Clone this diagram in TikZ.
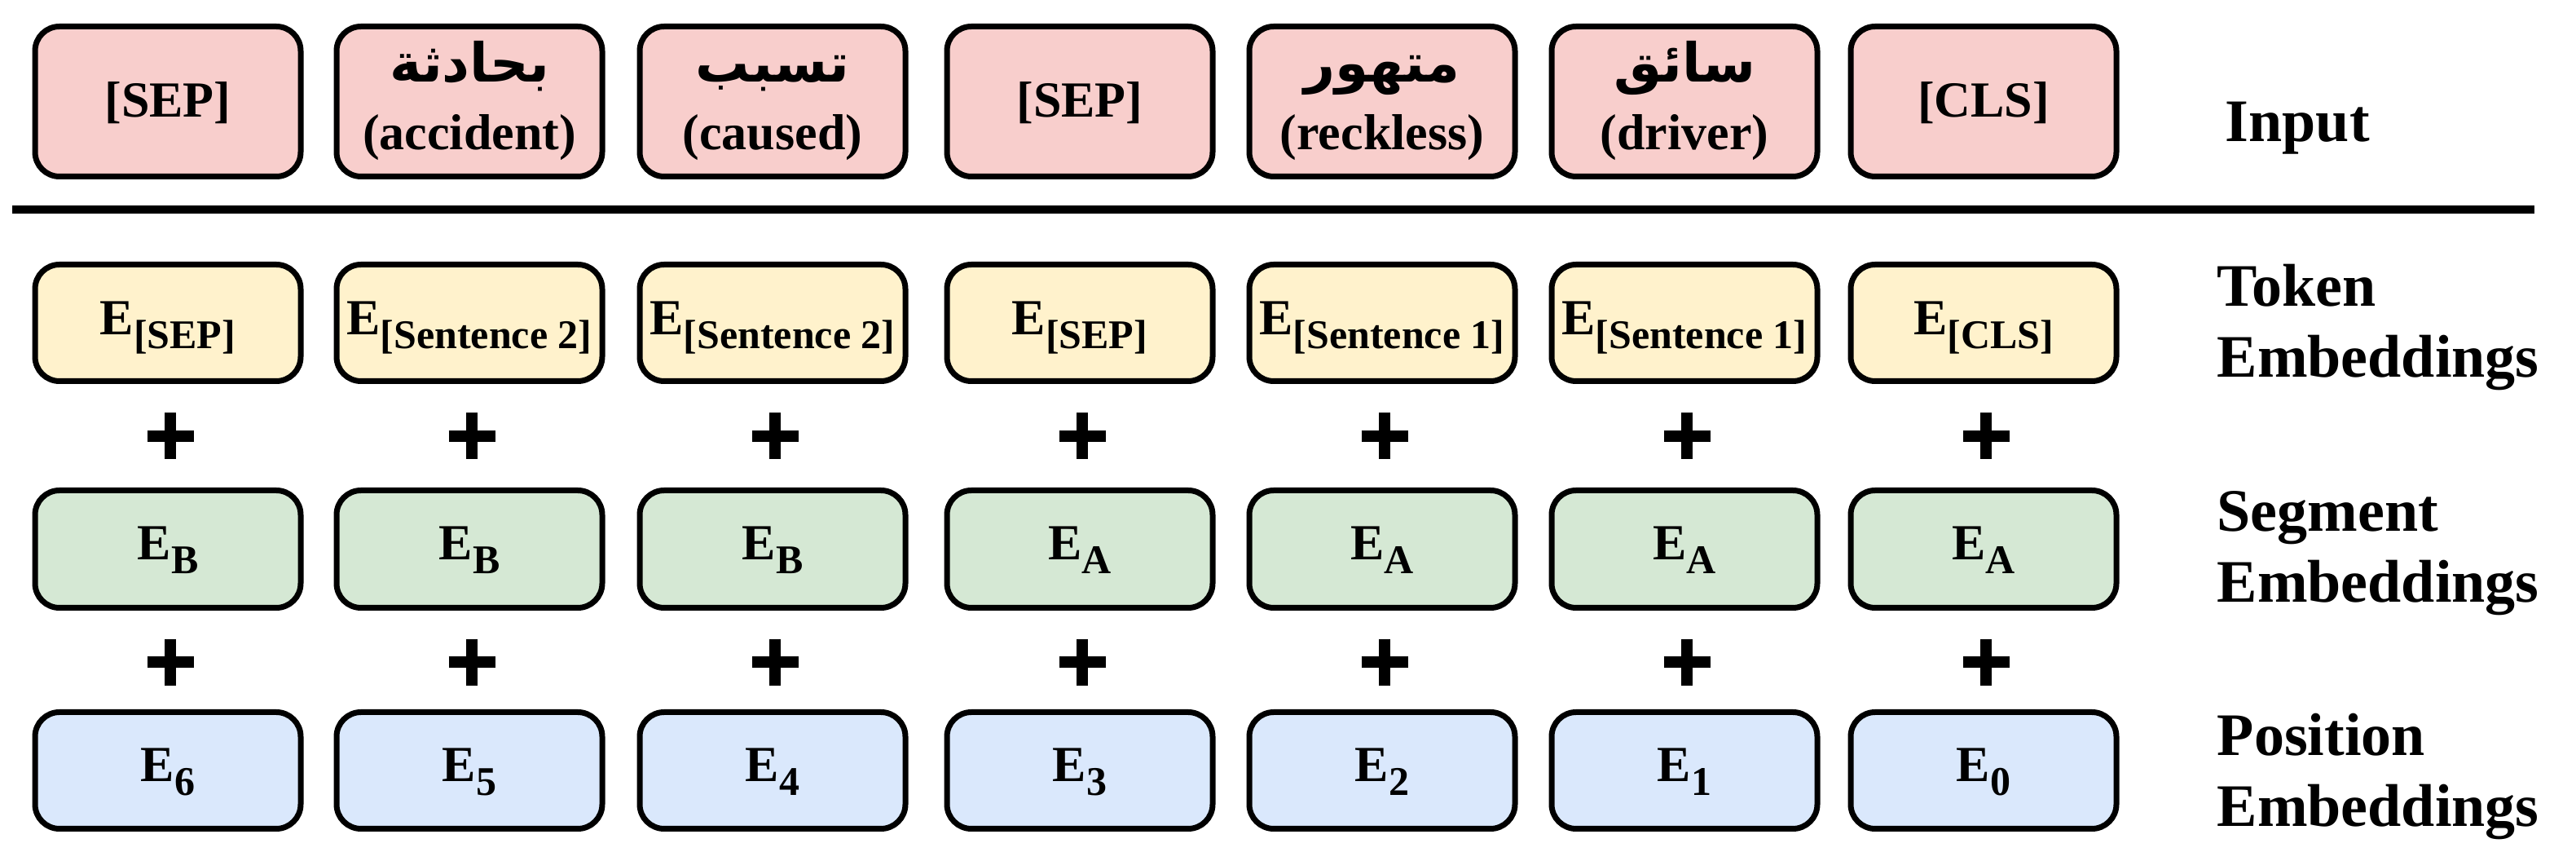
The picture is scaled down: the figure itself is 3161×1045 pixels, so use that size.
\documentclass[tikz,border=0pt]{standalone}
\usepackage{fontspec}
\setmainfont{Liberation Serif}
\newfontfamily\arabicfont[Script=Arabic]{DejaVu Sans}
\TeXXeTstate=1
\usetikzlibrary{calc}
\definecolor{inred}{HTML}{F8CECC}
\definecolor{tokyel}{HTML}{FFF2CC}
\definecolor{seggreen}{HTML}{D5E8D4}
\definecolor{posblue}{HTML}{DAE8FC}
\newcommand\Esub[1]{E\raisebox{-4.25pt}{\fontsize{12.5pt}{14pt}\selectfont #1}}
\newcommand\arabtwo[2]{\vbox{\baselineskip=20.75pt\halign{\hfil##\hfil\cr{\arabicfont\fontsize{16.5pt}{19pt}\selectfont\beginR #1\endR}\cr #2\cr}}}
\newcommand\labtwo[2]{\vbox{\baselineskip=21.75pt\halign{##\hfil\cr #1\cr #2\cr}}}
\tikzset{
  emb/.style={draw=black, line width=1.75pt, rounded corners=7.5pt, minimum width=81.5pt,
    inner sep=0pt, text depth=0pt, font=\fontsize{15.5pt}{18pt}\selectfont\bfseries},
  inbox/.style={emb, fill=inred, minimum height=46pt, text height=9.75pt},
  intwo/.style={emb, fill=inred, minimum height=46pt, text height=29.75pt},
  tokbox/.style={emb, fill=tokyel, minimum height=35.75pt, text height=7.5pt},
  segbox/.style={emb, fill=seggreen, minimum height=36pt, text height=6.75pt},
  posbox/.style={emb, fill=posblue, minimum height=35.75pt, text height=6.75pt},
  plusmark/.style={line width=3.4pt},
  rulemark/.style={line width=2.5pt},
  rowlabel/.style={anchor=base west, inner sep=0pt, font=\fontsize{18.5pt}{21.75pt}\selectfont\bfseries},
}
\begin{document}
\begin{tikzpicture}[x=0.25pt, y=-0.25pt]
\useasboundingbox (0,0) rectangle (3161,1045);
% input row
\node[inbox] (in1) at (206,124.5) {[SEP]};
\node[intwo] (in2) at (576,124.5) {\arabtwo{بحادثة}{(accident)}};
\node[intwo] (in3) at (948,124.5) {\arabtwo{تسبب}{(caused)}};
\node[inbox] (in4) at (1325,124.5) {[SEP]};
\node[intwo] (in5) at (1696,124.5) {\arabtwo{متهور}{(reckless)}};
\node[intwo] (in6) at (2067,124.5) {\arabtwo{سائق}{(driver)}};
\node[inbox] (in7) at (2434,124.5) {[CLS]};
% rule
\coordinate (ruleL) at (15,257);
\coordinate (ruleR) at (3110,257);
\draw[rulemark] (ruleL) -- (ruleR);
% token row
\node[tokbox] (tk1) at (206,396) {\Esub{[SEP]}};
\node[tokbox] (tk2) at (576,396) {\Esub{[Sentence 2]}};
\node[tokbox] (tk3) at (948,396) {\Esub{[Sentence 2]}};
\node[tokbox] (tk4) at (1325,396) {\Esub{[SEP]}};
\node[tokbox] (tk5) at (1696,396) {\Esub{[Sentence 1]}};
\node[tokbox] (tk6) at (2067,396) {\Esub{[Sentence 1]}};
\node[tokbox] (tk7) at (2434,396) {\Esub{[CLS]}};
% segment row
\node[segbox] (sg1) at (206,673.5) {\Esub{B}};
\node[segbox] (sg2) at (576,673.5) {\Esub{B}};
\node[segbox] (sg3) at (948,673.5) {\Esub{B}};
\node[segbox] (sg4) at (1325,673.5) {\Esub{A}};
\node[segbox] (sg5) at (1696,673.5) {\Esub{A}};
\node[segbox] (sg6) at (2067,673.5) {\Esub{A}};
\node[segbox] (sg7) at (2434,673.5) {\Esub{A}};
% position row
\node[posbox] (ps1) at (206,945) {\Esub{6}};
\node[posbox] (ps2) at (576,945) {\Esub{5}};
\node[posbox] (ps3) at (948,945) {\Esub{4}};
\node[posbox] (ps4) at (1325,945) {\Esub{3}};
\node[posbox] (ps5) at (1696,945) {\Esub{2}};
\node[posbox] (ps6) at (2067,945) {\Esub{1}};
\node[posbox] (ps7) at (2434,945) {\Esub{0}};
% plus signs
\foreach \i in {1,...,7}{
  \coordinate (pa\i) at ($(tk\i.center)!0.5!(sg\i.center)+(3,0)$);
  \coordinate (pb\i) at ($(sg\i.center)!0.5!(ps\i.center)+(3,3)$);
  \draw[plusmark] ($(pa\i)+(-28.5,0)$) -- ($(pa\i)+(28.5,0)$)
                  ($(pa\i)+(0,-28.5)$) -- ($(pa\i)+(0,28.5)$);
  \draw[plusmark] ($(pb\i)+(-28.5,0)$) -- ($(pb\i)+(28.5,0)$)
                  ($(pb\i)+(0,-28.5)$) -- ($(pb\i)+(0,28.5)$);
}
% row labels
\node[rowlabel] (lin) at (2730,174) {Input};
\node[rowlabel] (ltk) at (2720,463) {\labtwo{Token}{Embeddings}};
\node[rowlabel] (lsg) at (2720,739) {\labtwo{Segment}{Embeddings}};
\node[rowlabel] (lps) at (2720,1014) {\labtwo{Position}{Embeddings}};
\end{tikzpicture}
\end{document}
